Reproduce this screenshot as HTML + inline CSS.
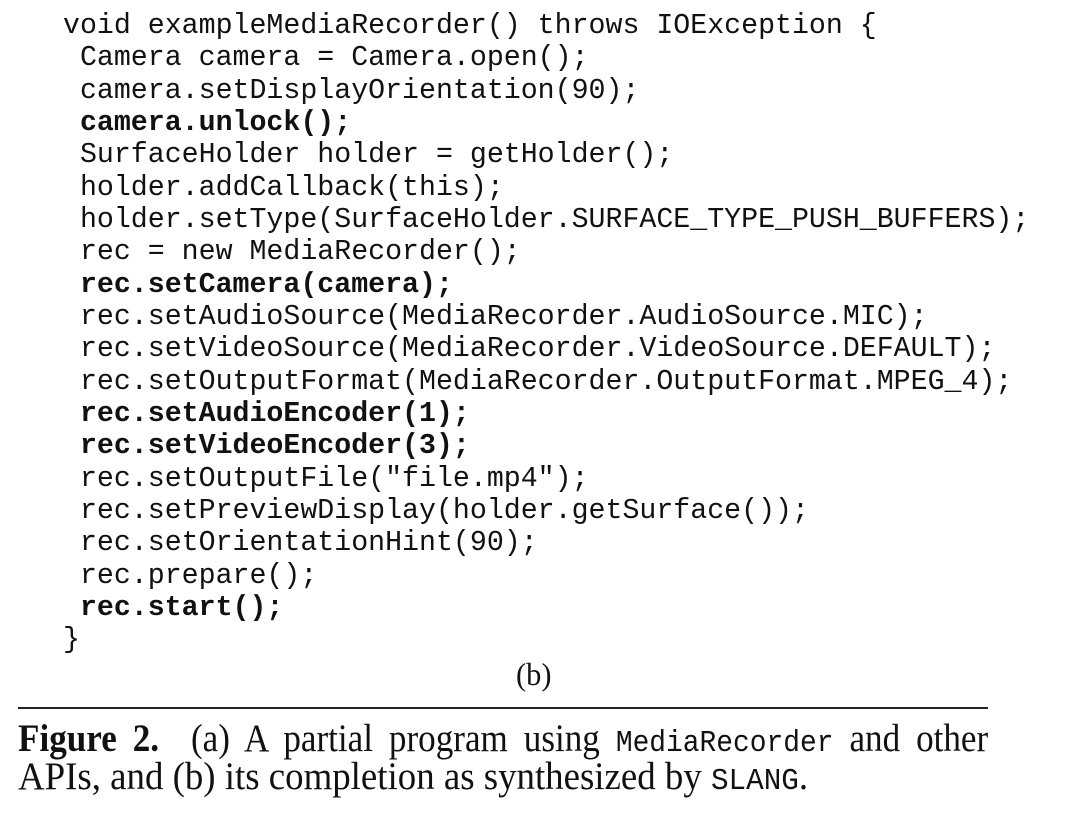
<!DOCTYPE html>
<html><head><meta charset="utf-8"><style>
body{margin:0;width:1080px;height:821px;background:#fff;position:relative;overflow:hidden;color:#111}
pre{position:absolute;left:63px;top:10px;margin:0;font-family:"Liberation Mono",monospace;font-size:28.25px;line-height:32.33px;letter-spacing:0}
b{font-weight:bold}
.rule{position:absolute;left:18px;top:707px;width:970px;height:2px;background:#222}
.cap{position:absolute;left:18px;font-family:"Liberation Serif",serif;font-size:39px;line-height:40px;white-space:nowrap;transform:scaleX(0.9);transform-origin:0 0}
.m{font-family:"Liberation Mono",monospace;font-size:31px}
</style></head><body>
<pre>void exampleMediaRecorder() throws IOException {
 Camera camera = Camera.open();
 camera.setDisplayOrientation(90);
 <b>camera.unlock();</b>
 SurfaceHolder holder = getHolder();
 holder.addCallback(this);
 holder.setType(SurfaceHolder.SURFACE_TYPE_PUSH_BUFFERS);
 rec = new MediaRecorder();
 <b>rec.setCamera(camera);</b>
 rec.setAudioSource(MediaRecorder.AudioSource.MIC);
 rec.setVideoSource(MediaRecorder.VideoSource.DEFAULT);
 rec.setOutputFormat(MediaRecorder.OutputFormat.MPEG_4);
 <b>rec.setAudioEncoder(1);</b>
 <b>rec.setVideoEncoder(3);</b>
 rec.setOutputFile("file.mp4");
 rec.setPreviewDisplay(holder.getSurface());
 rec.setOrientationHint(90);
 rec.prepare();
 <b>rec.start();</b>
}</pre>
<div class="cap" style="left:516px;top:654px;font-size:32px;line-height:40px;transform:scaleX(0.95)">(b)</div>
<div class="rule"></div>
<div class="cap" style="top:719px;width:1078px;text-align:justify;text-align-last:justify"><b>Figure 2.</b>&nbsp; (a) A partial program using <span class="m">MediaRecorder</span> and other</div>
<div class="cap" style="top:757px;transform:scaleX(0.945)">APIs, and (b) its completion as synthesized by <span class="m">SLANG</span>.</div>
</body></html>
